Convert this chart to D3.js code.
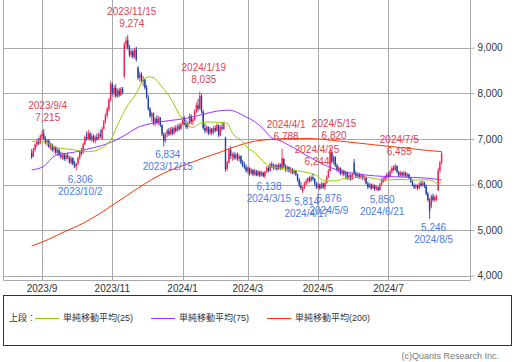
<!DOCTYPE html>
<html>
<head>
<meta charset="utf-8">
<script src="https://cdn.jsdelivr.net/npm/d3@7"></script>
<style>
  body { margin: 0; background: #fff; }
  svg { display: block; font-family: "Liberation Sans", "Noto Sans CJK JP", sans-serif; }
</style>
</head>
<body>
<div id="chart"></div>
<script>
//
//  daily candles with 25/75/200 day simple moving averages,
//  peak and trough labels, month grid and the legend box underneath
//

    // x tick positions (trading day index) and labels
var tickIdx = [6, 47, 88, 126, 167, 208];
var tickLabels = ["2023/9", "2023/11", "2024/1", "2024/3", "2024/5", "2024/7"];
var priceTicks = [4000, 5000, 6000, 7000, 8000, 9000];

    // one row per trading day: open, high, low, close
var ohlc = [
  [6700,6780,6560,6600],[6620,6800,6600,6760],[6760,6900,6720,6880],[6880,7000,6820,6960],
  [6950,7020,6860,6900],[6900,7100,6880,7060],[7060,7180,7000,7100],[7120,7215,6980,7000],
  [7000,7060,6880,6920],[6920,7000,6840,6960],[6960,7000,6800,6830],[6840,6920,6760,6880],
  [6880,6900,6720,6760],[6760,6860,6700,6820],[6820,6840,6660,6700],[6700,6800,6640,6760],
  [6760,6780,6620,6650],[6640,6720,6560,6600],[6600,6700,6540,6660],[6660,6680,6520,6560],
  [6560,6680,6520,6640],[6640,6700,6560,6600],[6600,6620,6460,6480],[6480,6620,6440,6580],
  [6580,6600,6420,6450],[6450,6520,6360,6400],[6400,6480,6306,6460],[6460,6620,6420,6580],
  [6580,6760,6540,6720],[6720,6800,6640,6680],[6700,6920,6680,6880],[6880,7080,6860,7040],
  [7040,7160,6960,7000],[7000,7200,6980,7120],[7120,7160,6960,6990],[6990,7120,6940,7060],
  [7060,7100,6920,6960],[6960,7080,6900,7040],[7040,7120,6960,7000],[7000,7140,6980,7100],
  [7100,7200,7020,7060],[7000,7260,6980,7220],[7220,7420,7200,7380],[7380,7560,7340,7520],
  [7520,7700,7460,7650],[7640,7900,7600,7860],[7860,8260,7820,8200],[8200,8240,7960,8000],
  [8000,8180,7920,8120],[8120,8200,7900,7940],[7940,8100,7900,8060],[8060,8120,7920,7960],
  [7960,8140,7940,8100],[8100,8140,7980,8020],[8380,9120,8330,9080],[9080,9240,8980,9160],
  [9160,9274,8960,9000],[9000,9060,8800,8840],[8840,8960,8780,8920],[8920,8960,8760,8800],
  [8800,9000,8760,8960],[8960,9020,8700,8740],[8560,8600,8300,8340],[8340,8480,8260,8420],
  [8420,8460,8220,8260],[8260,8380,8160,8300],[8300,8320,8080,8120],[8120,8180,7880,7920],
  [7900,7960,7620,7660],[7660,7700,7460,7500],[7500,7600,7380,7560],[7560,7580,7300,7340],
  [7340,7480,7280,7440],[7440,7520,7320,7360],[7360,7500,7300,7460],[7460,7480,7260,7300],
  [7300,7320,7060,7100],[7100,7140,6834,6960],[6960,7140,6920,7100],[7100,7220,7040,7180],
  [7180,7240,7060,7100],[7100,7260,7080,7220],[7220,7260,7080,7120],[7120,7280,7100,7240],
  [7240,7300,7140,7180],[7180,7320,7160,7280],[7280,7340,7180,7220],[7220,7360,7200,7320],
  [7320,7480,7300,7440],[7440,7500,7300,7340],[7340,7420,7220,7260],[7260,7380,7220,7340],
  [7340,7560,7320,7500],[7500,7540,7320,7380],[7380,7460,7300,7420],[7420,7640,7400,7600],
  [7600,7800,7560,7740],[7740,7880,7600,7660],[7660,8035,7640,7940],[7940,7980,7560,7600],
  [7600,7640,7200,7240],[7240,7340,7120,7180],[7180,7300,7140,7260],[7260,7280,7080,7120],
  [7120,7260,7100,7220],[7220,7240,7080,7140],[7140,7280,7100,7240],[7240,7300,7140,7180],
  [7180,7340,7160,7300],[7300,7320,7040,7080],[7080,7300,7060,7260],[7260,7360,7180,7220],
  [7220,7380,7200,7340],[7020,7040,6280,6340],[6340,6520,6300,6480],[6480,6800,6460,6760],
  [6760,6840,6560,6620],[6620,6700,6520,6660],[6660,6720,6540,6580],[6580,6700,6540,6660],
  [6660,6700,6520,6560],[6560,6660,6500,6620],[6620,6640,6440,6480],[6480,6540,6380,6420],
  [6420,6500,6340,6380],[6380,6440,6260,6300],[6300,6400,6240,6360],[6360,6380,6200,6240],
  [6240,6360,6220,6320],[6320,6340,6180,6220],[6220,6340,6200,6300],[6300,6320,6180,6200],
  [6200,6320,6180,6280],[6280,6300,6160,6200],[6200,6300,6180,6260],[6260,6280,6160,6180],
  [6180,6300,6138,6280],[6280,6400,6260,6360],[6360,6400,6260,6300],[6300,6480,6280,6440],
  [6440,6500,6360,6400],[6400,6460,6320,6360],[6360,6460,6320,6420],[6420,6440,6300,6340],
  [6340,6480,6320,6440],[6440,6460,6320,6360],[6340,6788,6320,6580],[6560,6580,6360,6400],
  [6400,6440,6280,6320],[6320,6420,6280,6380],[6380,6400,6260,6300],[6300,6380,6240,6340],
  [6340,6360,6220,6260],[6260,6340,6220,6300],[6300,6320,6180,6220],[6220,6240,6060,6100],
  [6100,6140,5940,5980],[5980,6060,5880,5920],[5860,5960,5814,5940],[5940,6060,5900,6020],
  [6020,6120,5980,6080],[6080,6160,6020,6140],[6140,6180,6040,6080],[6080,6200,6060,6160],
  [6160,6244,6080,6120],[6120,6140,5980,6020],[6020,6060,5900,5940],[5940,6040,5900,6000],
  [6000,6020,5880,5920],[5920,6060,5900,6020],[6020,6040,5900,5940],[5940,6060,5876,6040],
  [6040,6200,6020,6160],[6160,6340,6140,6300],[6300,6820,6280,6700],[6700,6760,6460,6500],
  [6500,6640,6440,6600],[6600,6620,6380,6420],[6420,6460,6280,6320],[6320,6400,6260,6360],
  [6360,6380,6200,6240],[6240,6340,6200,6300],[6300,6320,6180,6220],[6220,6300,6120,6260],
  [6260,6280,6100,6140],[6140,6240,6100,6200],[6200,6240,6080,6120],[6120,6260,6100,6220],
  [6480,6560,6200,6240],[6240,6300,6140,6180],[6180,6260,6140,6220],[6220,6260,6120,6160],
  [6160,6240,6120,6200],[6200,6220,6100,6140],[6140,6200,6080,6160],[6160,6180,6000,6020],
  [6020,6060,5900,5940],[5940,6040,5920,6000],[6000,6020,5880,5920],[5920,6020,5900,5980],
  [5980,6000,5860,5900],[5900,5980,5870,5940],[5940,5960,5850,5880],[5880,6040,5860,6000],
  [6000,6140,5980,6100],[6100,6160,6040,6080],[6080,6200,6060,6160],[6160,6260,6120,6220],
  [6220,6280,6140,6180],[6180,6320,6160,6280],[6280,6400,6240,6360],[6360,6420,6300,6320],
  [6320,6455,6300,6400],[6400,6420,6240,6280],[6280,6300,6160,6200],[6200,6300,6180,6260],
  [6260,6280,6160,6200],[6200,6300,6180,6260],[6260,6280,6160,6180],[6180,6260,6160,6220],
  [6220,6240,6120,6140],[6140,6160,6040,6060],[6060,6100,5960,5980],[5980,6020,5900,5940],
  [5940,6020,5900,5980],[5980,6000,5880,5920],[5920,6060,5900,6020],[6020,6080,5940,5980],
  [5980,6080,5960,6040],[6040,6060,5920,5960],[5960,6000,5760,5800],[5800,5840,5620,5660],
  [5640,5700,5246,5420],[5520,5780,5480,5740],[5740,5800,5620,5660],[5660,5760,5620,5720],
  [5660,5780,5640,5740],[5880,6360,5860,6300],[6300,6520,6260,6480],[6480,6720,6440,6680]
];

    // moving averages: [day index, value]
var ma25 = [[0,6950],[8,6920],[13,6830],[20,6780],[25,6760],[33,6720],[41,6800],[46,6975],
  [50,7300],[56,7740],[61,7990],[65,8300],[68,8360],[71,8340],[76,8140],[81,7890],[86,7540],
  [91,7300],[94,7250],[98,7340],[102,7370],[111,7360],[114,7340],[117,7130],[123,6940],
  [126,6800],[130,6700],[133,6580],[139,6400],[145,6360],[151,6320],[158,6280],[166,6200],
  [171,6080],[177,6080],[183,6140],[194,6160],[206,6100],[214,6110],[223,6100],[231,6100],
  [235,6060],[237,6010],[239,6050]];
var ma75 = [[0,6320],[7,6400],[14,6640],[25,6710],[33,6780],[43,6880],[52,7030],[63,7270],
  [70,7340],[80,7400],[90,7450],[100,7540],[108,7610],[115,7630],[120,7580],[125,7480],
  [130,7380],[135,7220],[140,7020],[145,6960],[150,6860],[155,6760],[160,6640],[165,6540],
  [170,6440],[175,6360],[180,6300],[185,6260],[190,6230],[200,6190],[210,6170],[220,6160],
  [230,6140],[239,6100]];
var ma200 = [[0,4650],[10,4800],[20,4980],[30,5150],[40,5370],[50,5620],[60,5870],[70,6110],
  [80,6300],[90,6440],[100,6580],[110,6710],[120,6850],[130,6950],[140,6990],[150,7010],
  [160,7010],[170,6990],[180,6950],[190,6910],[200,6870],[210,6830],[220,6790],[230,6750],
  [239,6720]];

    // labelled peaks and troughs: [day index, price, date]
var peaks = [[7,7215,"2023/9/4"],[56,9274,"2023/11/15"],[98,8035,"2024/1/19"],[146,6788,"2024/4/1"],
  [164,6244,"2024/4/25"],[174,6820,"2024/5/15"],[212,6455,"2024/7/5"]];
var troughs = [[26,6306,"2023/10/2"],[77,6834,"2023/12/15"],[136,6138,"2024/3/15"],[158,5814,"2024/4/17"],
  [171,5876,"2024/5/9"],[202,5850,"2024/6/21"],[232,5246,"2024/8/5"]];

var legendItems = [["単純移動平均(25)", "#99cc00"], ["単純移動平均(75)", "#9933ff"], ["単純移動平均(200)", "#ff3300"]];

var W = 515, H = 362;
var plotLeft = 3, plotRight = 470, plotTop = 0, plotBottom = 280;
var upColor = "#f5234f", downColor = "#1e3f9e";
var redText = "#e0434f", blueText = "#4a7be6";
var gridColor = "#a9a9a9";

var svg = d3.select("#chart").append("svg")
    .attr("width", W)
    .attr("height", H);

var x = d3.scaleLinear().domain([0, ohlc.length - 1]).range([31.7, 441.6]);
var y = d3.scaleLinear().domain([4000, 9000]).range([275.7, 47.7]);
var fmt = d3.format(",");

    // grid lines
svg.append("g").selectAll("line").data(priceTicks).join("line")
    .attr("x1", plotLeft).attr("x2", plotRight)
    .attr("y1", function(d) { return Math.round(y(d)) + 0.5; })
    .attr("y2", function(d) { return Math.round(y(d)) + 0.5; })
    .attr("stroke", gridColor);

svg.append("g").selectAll("line").data(tickIdx).join("line")
    .attr("x1", function(d) { return Math.round(x(d)) + 0.5; })
    .attr("x2", function(d) { return Math.round(x(d)) + 0.5; })
    .attr("y1", plotTop).attr("y2", plotBottom)
    .attr("stroke", gridColor);

    // frame: left, bottom
svg.append("path")
    .attr("d", "M" + (plotLeft + 0.5) + "," + plotTop + "V" + (plotBottom + 0.5) + "H" + plotRight)
    .attr("fill", "none")
    .attr("stroke", gridColor);

    // right price axis
var yAxis = d3.axisRight(y).tickValues(priceTicks).tickFormat(fmt).tickSize(4).tickPadding(3);
var ag = svg.append("g")
    .attr("transform", "translate(" + (plotRight + 0.5) + ",0)")
    .call(yAxis);
ag.select(".domain").attr("d", "M0," + plotTop + "V" + (plotBottom + 0.5)).attr("stroke", gridColor);
ag.selectAll(".tick line").attr("stroke", gridColor);
ag.selectAll(".tick text").attr("fill", "#333").style("font-size", "10px")
    .style("font-family", "'Liberation Sans', sans-serif");

    // month labels
svg.append("g").selectAll("text").data(tickIdx).join("text")
    .attr("x", function(d) { return x(d); })
    .attr("y", 292)
    .attr("text-anchor", "middle")
    .attr("fill", "#333")
    .style("font-size", "10px")
    .text(function(d, i) { return tickLabels[i]; });

    // moving average lines
function drawMA(data, color) {
    var line = d3.line()
        .x(function(d) { return x(d[0]); })
        .y(function(d) { return y(d[1]); })
        .curve(d3.curveMonotoneX);
    svg.append("path")
        .datum(data)
        .attr("d", line)
        .attr("fill", "none")
        .attr("stroke", color)
        .attr("stroke-width", 1);
}

    // candles
var cg = svg.append("g");
ohlc.forEach(function(d, i) {
    var cx = x(i);
    var col = d[3] >= d[0] ? upColor : downColor;
    cg.append("line")
        .attr("x1", cx).attr("x2", cx)
        .attr("y1", y(d[1])).attr("y2", y(d[2]))
        .attr("stroke", col)
        .attr("stroke-width", 0.9);
    var top = y(Math.max(d[0], d[3]));
    var bot = y(Math.min(d[0], d[3]));
    cg.append("rect")
        .attr("x", cx - 0.7)
        .attr("y", top)
        .attr("width", 1.4)
        .attr("height", Math.max(1, bot - top))
        .attr("fill", col);
});

drawMA(ma200, legendItems[2][1]);
drawMA(ma75, legendItems[1][1]);
drawMA(ma25, legendItems[0][1]);

    // peak / trough annotations
function annotate(list, above, color) {
    var g = svg.append("g")
        .attr("fill", color)
        .attr("text-anchor", "middle")
        .style("font-size", "10px");
    list.forEach(function(d) {
        var cx = x(d[0]) + 4;
        var cy = y(d[1]);
        var first = above ? d[2] : fmt(d[1]);
        var second = above ? fmt(d[1]) : d[2];
        var y1 = above ? cy - 24 : cy + 8.5;
        g.append("text").attr("x", cx).attr("y", y1).attr("dy", "0.35em").text(first);
        g.append("text").attr("x", cx).attr("y", y1 + 12).attr("dy", "0.35em").text(second);
    });
}
annotate(peaks, true, redText);
annotate(troughs, false, blueText);

    // legend box
var lg = svg.append("g").style("font-size", "9px");
lg.append("rect")
    .attr("x", 3.5).attr("y", 295.5)
    .attr("width", 508).attr("height", 50)
    .attr("fill", "#fff")
    .attr("stroke", "#333");
lg.append("text").attr("x", 9).attr("y", 318).attr("dy", "0.35em").attr("fill", "#333").text("上段：");

var legendX = [35, 151, 267];
legendItems.forEach(function(d, i) {
    lg.append("line")
        .attr("x1", legendX[i]).attr("x2", legendX[i] + 24)
        .attr("y1", 318.5).attr("y2", 318.5)
        .attr("stroke", d[1]);
    lg.append("text")
        .attr("x", legendX[i] + 28).attr("y", 318).attr("dy", "0.35em")
        .attr("fill", "#333")
        .text(d[0]);
});

svg.append("text")
    .attr("x", 499).attr("y", 359)
    .attr("text-anchor", "end")
    .attr("fill", "#777")
    .style("font-size", "9px")
    .text("(c)Quants Research Inc.");
</script>
</body>
</html>
